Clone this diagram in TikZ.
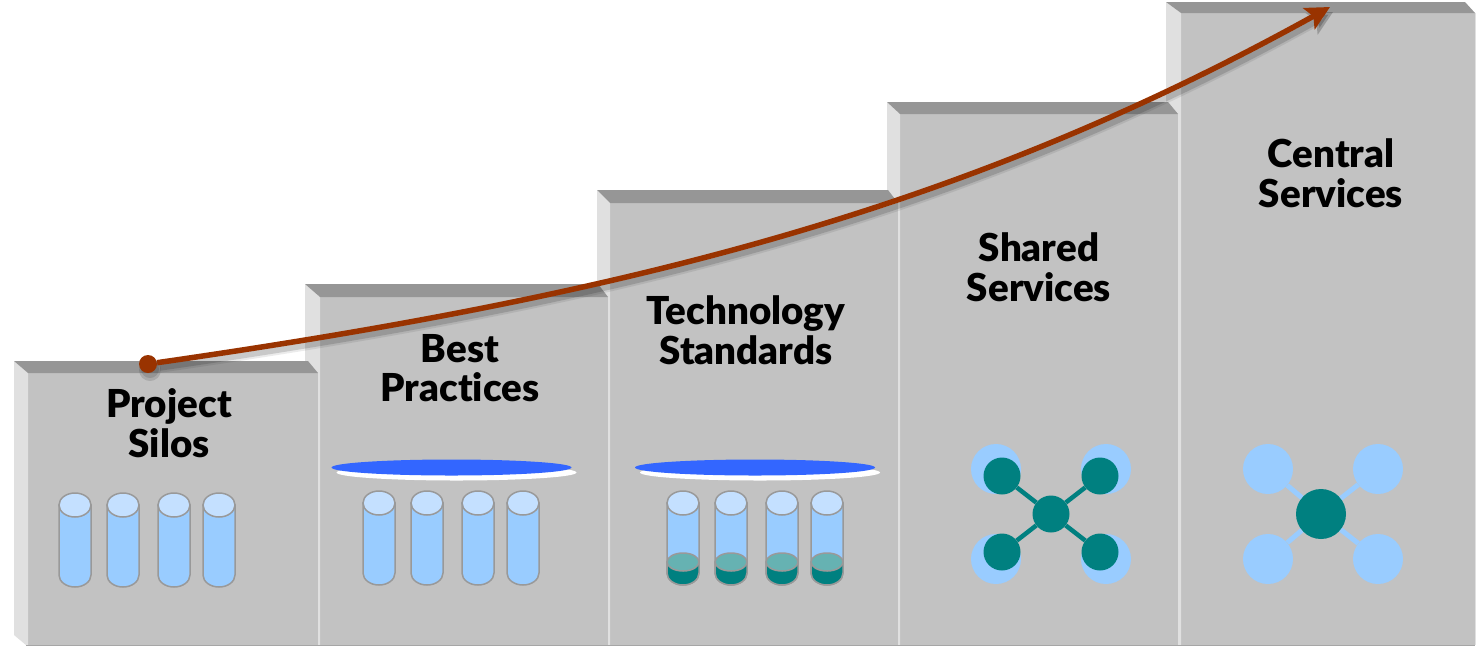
\documentclass[tikz,border=0pt]{standalone}
\usepackage{fontspec}
\setmainfont{Lato}[BoldFont={Lato Black}, Ligatures=NoCommon]
\usepackage{xcolor}
\usetikzlibrary{arrows.meta}
\definecolor{stepface}{HTML}{C2C2C2}
\definecolor{steptop}{HTML}{969696}
\definecolor{stepside}{HTML}{E0E0E0}
\definecolor{silobody}{HTML}{99CCFF}
\definecolor{silocap}{HTML}{C4E0FF}
\definecolor{siloedge}{HTML}{999999}
\definecolor{siloteal}{HTML}{008080}
\definecolor{silotealcap}{HTML}{66B2B2}
\definecolor{diskblue}{HTML}{3366FF}
\definecolor{trendline}{HTML}{993300}

\tikzset{
  steplabel/.style={font=\fontsize{38.5}{39.5}\selectfont\bfseries, align=center, inner sep=0pt},
  hubnode/.style={circle, fill=siloteal, inner sep=0pt, minimum size=37pt},
  leafnode/.style={circle, fill=silobody, inner sep=0pt, minimum size=50pt},
  tealleaf/.style={circle, fill=siloteal, inner sep=0pt, minimum size=37pt},
  trenddot/.style={circle, fill=trendline, inner sep=0pt, minimum size=18pt},
  pics/silo/.style={code={
    \draw[fill=silobody, draw=siloedge, line width=1.5pt]
      (-16,0) -- (-16,70) arc[start angle=180, end angle=0, x radius=16, y radius=12] -- (16,0) -- cycle;
    \draw[fill=silocap, draw=siloedge, line width=1.5pt] (0,0) ellipse[x radius=16, y radius=12];
  }},
  pics/tealsilo/.style={code={
    \draw[fill=silobody, draw=siloedge, line width=1.5pt]
      (-16,0) -- (-16,70) arc[start angle=180, end angle=0, x radius=16, y radius=12] -- (16,0) -- cycle;
    \draw[fill=siloteal, draw=siloedge, line width=1.5pt]
      (-16,59) -- (-16,70) arc[start angle=180, end angle=0, x radius=16, y radius=12] -- (16,59) -- cycle;
    \draw[fill=silotealcap, draw=siloedge, line width=1.5pt] (0,59) ellipse[x radius=16, y radius=9];
    \draw[fill=silocap, draw=siloedge, line width=1.5pt] (0,0) ellipse[x radius=16, y radius=12];
  }}
}

\begin{document}
\begin{tikzpicture}[x=1pt, y=-1pt, >=Stealth]

    \useasboundingbox (0,0) rectangle (1480,649);
    \fill[white] (0,0) rectangle (1480,649);

    % 1. stairs, drawn from the right so each top bevel overlaps the next step
    \foreach \l/\t/\il/\it/\r in {1166/2/1181/13/1475, 887/102/900/114/1178, 597/190/610/203/898, 305/284/320/297/608, 14/361/28/373/318} {
        \fill[stepface] (\il,\it) rectangle (\r,645);
        \fill[stepside] (\l,\t) -- (\il,\it) -- (\il,645) -- (\il-2,645) -- (\l,635) -- cycle;
        \fill[steptop] (\l,\t) -- (\r-10,\t) -- (\r,\it) -- (\il,\it) -- cycle;
        \draw[stepside, line width=1pt] (\r,\it) -- (\r,645);
    }
    \draw[gray!70, line width=0.8pt] (26,645) -- (1475,645);

    % 2. step labels
    \node[steplabel] (labelSilos) at (169,423) {Project\\Silos};
    \node[steplabel] (labelPractices) at (460,368) {Best\\Practices};
    \node[steplabel] (labelStandards) at (746,330) {Technology\\Standards};
    \node[steplabel] (labelShared) at (1039,267) {Shared\\Services};
    \node[steplabel] (labelCentral) at (1331,173) {Central\\Services};

    % 3. silos
    \foreach \x in {75,123,174,219} \pic at (\x,505) {silo};
    \foreach \x in {379,427,478,523} \pic at (\x,503) {silo};
    \foreach \x in {683,731,782,827} \pic at (\x,503) {tealsilo};

    % 4. disks above the silos
    \fill[white] (456.5,472.5) ellipse[x radius=120, y radius=8];
    \fill[diskblue] (451.5,467.5) ellipse[x radius=120, y radius=8];
    \fill[white] (760,472.5) ellipse[x radius=120, y radius=8];
    \fill[diskblue] (755,467.5) ellipse[x radius=120, y radius=8];

    % 5. shared services network
    \node[leafnode] (sharedA) at (996,469) {};
    \node[leafnode] (sharedB) at (1106,469) {};
    \node[leafnode] (sharedC) at (996,559) {};
    \node[leafnode] (sharedD) at (1106,559) {};
    \node[tealleaf] (tealA) at (1002,476) {};
    \node[tealleaf] (tealB) at (1100,476) {};
    \node[tealleaf] (tealC) at (1002,552) {};
    \node[tealleaf] (tealD) at (1100,552) {};
    \node[hubnode] (sharedHub) at (1051,514) {};
    \foreach \n in {tealA,tealB,tealC,tealD} \draw[siloteal, line width=4.5pt] (sharedHub) -- (\n);

    % 6. central services network
    \node[leafnode] (centralA) at (1268,469) {};
    \node[leafnode] (centralB) at (1378,469) {};
    \node[leafnode] (centralC) at (1268,559) {};
    \node[leafnode] (centralD) at (1378,559) {};
    \node[hubnode, minimum size=50pt] (centralHub) at (1321,514) {};
    \foreach \n in {centralA,centralB,centralC,centralD} \draw[silobody, line width=5pt] (centralHub) -- (\n);

    % 7. rising trend with soft shadow
    \coordinate (trendEnd) at (1330,7);
    \fill[black, opacity=0.12] (150,370) circle (11);
    \fill[black, opacity=0.12] (150,369) circle (9);
    \node[trenddot] (trendStart) at (148,364) {};
    \draw[-{Stealth[length=24pt, width=24pt, inset=5pt]}, trendline, line width=5.5pt,
        preaction={draw, black, opacity=0.08, line width=10pt, transform canvas={shift={(3pt,-5pt)}}},
        preaction={draw, black, opacity=0.14, line width=6pt, transform canvas={shift={(3pt,-5pt)}}}]
        (trendStart) .. controls (620,296) and (960,212) .. (trendEnd);

\end{tikzpicture}
\end{document}
